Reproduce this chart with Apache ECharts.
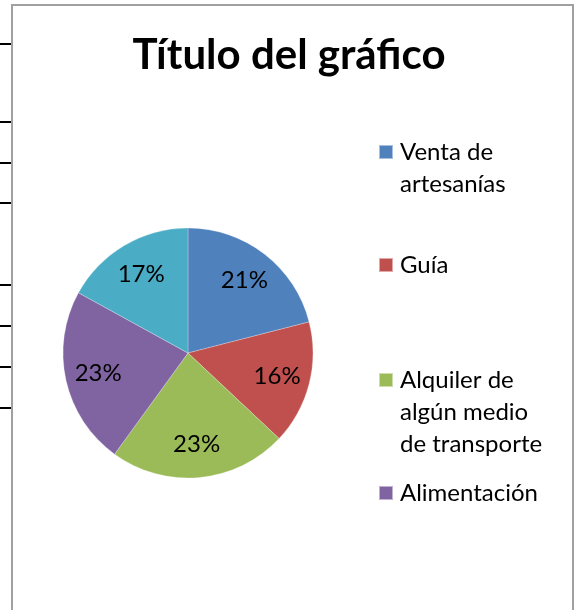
<!DOCTYPE html>
<html>
<head>
<meta charset="utf-8">
<script src="https://cdn.jsdelivr.net/npm/echarts@6/dist/echarts.min.js"></script>
<style>
  html, body { margin: 0; padding: 0; background: #fff; }
  #chart { width: 578px; height: 610px; }
</style>
</head>
<body>
<div id="chart"></div>
<script>
'use strict';

const categories = ['Venta de artesanías', 'Guía', 'Alquiler de algún medio de transporte', 'Alimentación', 'Otros'];
const values = [21, 16, 23, 23, 17];
const colors = ['#4F81BD', '#C0504D', '#9BBB59', '#8064A2', '#4BACC6'];
// legend shows only the first four entries, wrapped as in the picture
const legendLines = [
    ['Venta de', 'artesanías'],
    ['Guía'],
    ['Alquiler de', 'algún medio', 'de transporte'],
    ['Alimentación']
];
const legendRowY = [152, 265, 380, 493];

const FONT = 'Lato';
const LINE_H = 32;

const chart = echarts.init(document.getElementById('chart'), null, {renderer: 'canvas'});

const pieData = categories.map((name, i) => ({name, value: values[i], itemStyle: {color: colors[i]}}));

// one legend per entry so the uneven spacing can be kept
const legends = legendLines.map((lines, i) => {
    // blank lines above keep the marker level with the first line
    const blockH = (lines.length * 2 - 1) * LINE_H;
    return {
        data: [categories[i]],
        left: 378,
        top: legendRowY[i] - blockH / 2,
        padding: 0,
        itemWidth: 14,
        itemHeight: 14,
        itemGap: 0,
        icon: 'rect',
        selectedMode: false,
        formatter: () => '\n'.repeat(lines.length - 1) + lines.join('\n'),
        textStyle: {fontFamily: FONT, fontSize: 24, color: '#000', lineHeight: LINE_H, padding: [0, 0, 0, 2]}
    };
});

// leftover table rules of the sheet behind the chart
const tableRules = [44, 122, 163, 203, 285, 326, 367, 408];

chart.setOption({
    animation: false,
    backgroundColor: '#fff',
    title: {
        text: 'Título del gráfico',
        left: 'center',
        top: 34,
        padding: 0,
        textStyle: {fontFamily: FONT, fontWeight: 'bold', fontSize: 42, color: '#000'}
    },
    legend: legends,
    graphic: [
        {type: 'rect', shape: {x: 12, y: 5, width: 561, height: 620},
         style: {fill: 'none', stroke: '#A0A0A0', lineWidth: 2}, silent: true}
    ].concat(tableRules.map(y => ({
        type: 'line', shape: {x1: 0, y1: y, x2: 11, y2: y},
        style: {stroke: '#000', lineWidth: 2}, silent: true
    }))),
    series: [
        {
            type: 'pie',
            center: [188, 353],
            radius: [0, 125],
            startAngle: 90,
            clockwise: true,
            label: {show: false},
            labelLine: {show: false},
            itemStyle: {borderColor: 'rgba(255,255,255,0.5)', borderWidth: 0.5},
            emphasis: {disabled: true},
            data: pieData
        },
        {
            // transparent ring used only to place the percent labels further out
            type: 'pie',
            center: [188, 353],
            radius: [53, 125],
            startAngle: 90,
            clockwise: true,
            silent: true,
            itemStyle: {color: 'rgba(0,0,0,0)'},
            label: {
                show: true,
                position: 'inside',
                formatter: p => Math.round(p.percent) + '%',
                fontFamily: FONT,
                fontSize: 24,
                color: '#000'
            },
            labelLine: {show: false},
            emphasis: {disabled: true},
            data: pieData.map(d => ({name: d.name, value: d.value}))
        }
    ]
});
</script>
</body>
</html>
